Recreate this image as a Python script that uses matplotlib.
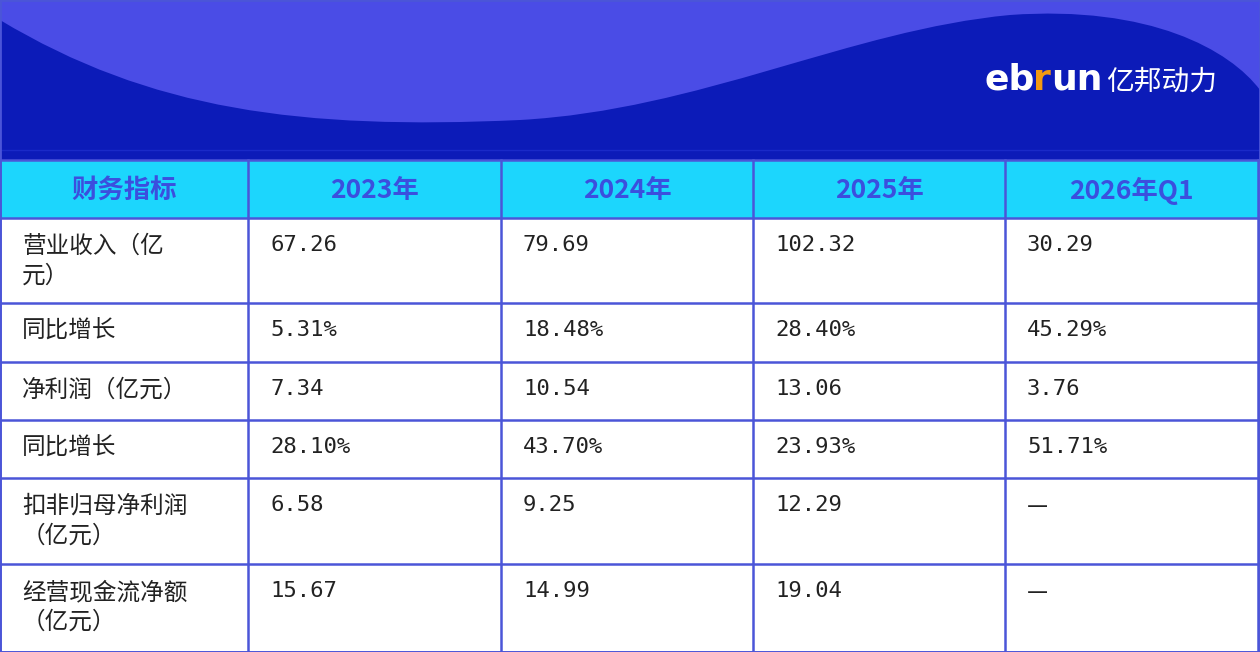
import matplotlib
matplotlib.use("Agg")
import matplotlib.pyplot as plt
from matplotlib.path import Path
from matplotlib.patches import PathPatch, Rectangle

plt.rcParams['font.family'] = ['Noto Sans CJK SC', 'DejaVu Sans']

headers = ["财务指标", "2023年", "2024年", "2025年", "2026年Q1"]
metrics = ["营业收入（亿\n元）", "同比增长", "净利润（亿元）", "同比增长",
           "扣非归母净利润\n（亿元）", "经营现金流净额\n（亿元）"]
v2023 = ["67.26", "5.31%", "7.34", "28.10%", "6.58", "15.67"]
v2024 = ["79.69", "18.48%", "10.54", "43.70%", "9.25", "14.99"]
v2025 = ["102.32", "28.40%", "13.06", "23.93%", "12.29", "19.04"]
v2026 = ["30.29", "45.29%", "3.76", "51.71%", "—", "—"]

col_x = [0, 248, 501, 753, 1005, 1258]
row_y = [160, 218, 303, 362, 420, 478, 564, 652]
line_c = "#4b55d8"

fig = plt.figure(figsize=(12.6, 6.52), dpi=100)
ax = fig.add_axes([0, 0, 1, 1])
ax.set_xlim(0, 1260)
ax.set_ylim(652, 0)
ax.axis("off")

# banner
ax.add_patch(Rectangle((0, 0), 1260, 160, color="#4a4ce6", lw=0))
verts = [(0, 20), (150, 110), (300, 130), (520, 120),
         (700, 110), (850, 30), (1010, 15),
         (1150, 5), (1230, 50), (1260, 90),
         (1260, 160), (0, 160), (0, 20)]
codes = [Path.MOVETO, Path.CURVE4, Path.CURVE4, Path.CURVE4,
         Path.CURVE4, Path.CURVE4, Path.CURVE4,
         Path.CURVE4, Path.CURVE4, Path.CURVE4,
         Path.LINETO, Path.LINETO, Path.CLOSEPOLY]
ax.add_patch(PathPatch(Path(verts, codes), color="#0c1bb8", lw=0))
ax.plot([0, 1260], [150, 150], color="#1a2ac8", lw=1)
# logo
logo = dict(fontsize=26, fontweight="bold", ha="left", va="center",
            family="DejaVu Sans")
ax.text(985, 80, "eb", color="white", **logo)
ax.text(1033, 80, "r", color="#f39a12", **logo)
ax.text(1051, 80, "un", color="white", **logo)
ax.text(1106, 82, "亿邦动力", color="white", fontsize=20,
        ha="left", va="center")

# header row
ax.add_patch(Rectangle((0, row_y[0]), 1258, row_y[1] - row_y[0],
                       color="#1cd6fd", lw=0))
for i, h in enumerate(headers):
    ax.text((col_x[i] + col_x[i + 1]) / 2, (row_y[0] + row_y[1]) / 2 + 2, h,
            color="#3b4fde", fontsize=19, fontweight="bold",
            ha="center", va="center")

# body
cols = [metrics, v2023, v2024, v2025, v2026]
for c, vals in enumerate(cols):
    for r, v in enumerate(vals):
        if c == 0 or v == "—":
            fam, fs = ['Noto Sans CJK SC'], 17
        else:
            fam, fs = ['DejaVu Sans Mono'], 16
        ax.text(col_x[c] + 22, row_y[r + 1] + 17, v, color="#222222",
                fontsize=fs, ha="left", va="top",
                linespacing=1.35, family=fam)

# grid
for x in col_x:
    ax.plot([x, x], [row_y[0], 652], color=line_c, lw=1.8)
for y in row_y:
    ax.plot([0, 1258], [y, y], color=line_c, lw=1.8)
ax.plot([0, 1260, 1260, 0, 0], [0, 0, 652, 652, 0], color=line_c, lw=2)

fig.savefig("out.png", dpi=100)
